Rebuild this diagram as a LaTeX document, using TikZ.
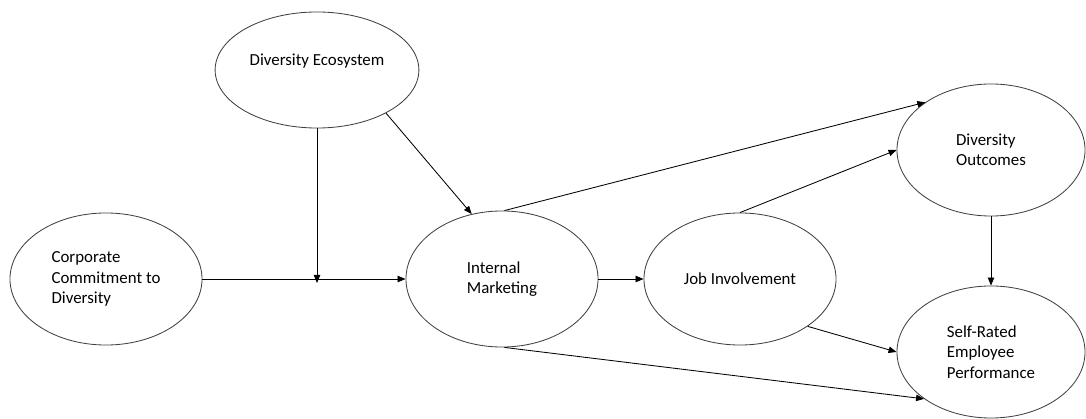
\documentclass[tikz,border=0pt]{standalone}
\usepackage{fontspec}
\setmainfont{Carlito}
\usepackage{tikz}
\usetikzlibrary{arrows.meta, positioning, shapes.geometric, calc}

\begin{document}
\begin{tikzpicture}[x=0.025cm, y=-0.025cm,
    construct/.style={ellipse, draw=black!75, line width=0.6pt, minimum width=4.8cm, minimum height=3.3cm, align=left, font=\fontsize{12}{14.4}\selectfont},
    path/.style={-{Triangle[length=2mm, width=1.6mm]}, line width=0.6pt}
]
\useasboundingbox (0,0) rectangle (1086,419);

\node[construct, minimum height=2.9cm, text depth=0.52cm] at (317,70) (eco) {Diversity Ecosystem};
\node[construct] at (106,279) (ccd) {Corporate\\Commitment to\\Diversity};
\node[construct, minimum height=3.4cm] at (502,279) (im) {Internal\\Marketing};
\node[construct] at (740,279) (ji) {Job Involvement};
\node[construct, minimum width=4.7cm] at (991,150) (do) {Diversity\\Outcomes};
\node[construct, minimum width=4.7cm] at (991,352) (srp) {Self-Rated\\Employee\\Performance};

\coordinate (mod) at (317,283);

\draw[path] (ccd.east) -- (im.west);
\draw[path] (eco.south) -- (mod);
\draw[path] (eco.-32) -- (im.115);
\draw[path] (im.east) -- (ji.west);
\draw[path] (im.88) -- (do.144);
\draw[path] (ji.north) -- (do.west);
\draw[path] (ji.-35) -- (srp.west);
\draw[path] (im.-88) -- (srp.215);
\draw[path] (do.south) -- (srp.north);
\end{tikzpicture}
\end{document}
